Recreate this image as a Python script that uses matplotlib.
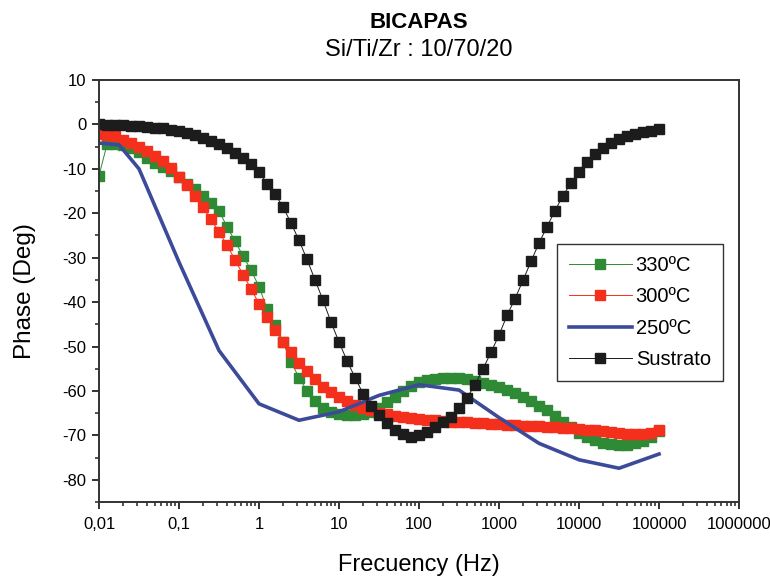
import matplotlib
matplotlib.use("Agg")
import matplotlib.pyplot as plt
import numpy as np
from matplotlib.ticker import FixedLocator, LogLocator, NullFormatter, MultipleLocator

plt.rcParams['font.family'] = ['Liberation Sans', 'DejaVu Sans']
plt.rcParams['axes.unicode_minus'] = False

# frequency sweep of the square-marker series: 0.01 Hz .. 100 kHz, 10 points/decade
freq = np.logspace(-2, 5, 71)

sustrato = [0.0, -0.1, -0.1, -0.2, -0.3, -0.4, -0.5, -0.7, -0.9, -1.2,
            -1.5, -1.9, -2.4, -3.0, -3.7, -4.5, -5.4, -6.4, -7.6, -9.0,
            -10.7, -13.3, -15.6, -18.6, -22.2, -26.1, -30.4, -35.0, -39.6, -44.5,
            -49.0, -53.2, -57.0, -60.6, -63.5, -65.5, -67.3, -68.9, -69.8, -70.3,
            -70.0, -69.3, -68.1, -67.0, -65.9, -63.9, -61.5, -58.6, -55.0, -51.3,
            -47.4, -43.0, -39.2, -35.1, -30.8, -26.7, -23.0, -19.4, -16.0, -13.2,
            -10.6, -8.5, -6.6, -5.2, -4.1, -3.2, -2.6, -2.1, -1.7, -1.4,
            -1.0]

t330 = [-11.5, -4.5, -4.4, -4.6, -5.3, -6.3, -7.5, -8.6, -9.6, -10.5,
        -11.8, -13.4, -14.6, -16.0, -17.6, -19.5, -23.0, -26.3, -29.6, -32.8,
        -36.5, -41.5, -45.2, -49.0, -53.5, -57.0, -60.0, -62.3, -63.8, -64.7,
        -65.1, -65.4, -65.5, -65.3, -64.8, -63.9, -62.6, -61.3, -60.0, -58.9,
        -58.0, -57.5, -57.2, -57.0, -57.0, -57.1, -57.4, -57.7, -58.1, -58.6,
        -59.1, -59.7, -60.5, -61.3, -62.3, -63.3, -64.4, -65.6, -66.9, -68.2,
        -69.4, -70.4, -71.1, -71.7, -72.0, -72.2, -72.1, -71.8, -71.2, -70.3,
        -69.0]

t300 = [-2.1, -2.3, -2.7, -3.4, -4.2, -5.1, -5.9, -7.0, -8.3, -9.9,
        -11.9, -13.7, -16.2, -18.7, -21.4, -24.2, -27.2, -30.5, -33.8, -37.0,
        -40.4, -43.4, -46.2, -48.9, -51.3, -53.7, -55.4, -57.3, -59.0, -60.3,
        -61.4, -62.3, -63.1, -63.8, -64.4, -64.9, -65.3, -65.6, -65.9, -66.1,
        -66.3, -66.5, -66.6, -66.8, -66.9, -67.0, -67.1, -67.2, -67.3, -67.4,
        -67.5, -67.6, -67.7, -67.8, -67.9, -68.0, -68.1, -68.2, -68.3, -68.4,
        -68.6, -68.7, -68.9, -69.1, -69.3, -69.5, -69.6, -69.7, -69.7, -69.4,
        -68.8]

freq250 = [0.01, 0.0178, 0.0316, 0.1, 0.316, 1, 3.16, 10, 31.6, 100,
           316, 1000, 3162, 10000, 31623, 100000]
t250 = [-4.2, -4.6, -10.0, -31.0, -50.9, -62.9, -66.6, -64.7, -61.0, -58.6,
        -59.8, -66.0, -71.8, -75.5, -77.4, -74.2]

xticks = [0.01, 0.1, 1, 10, 100, 1000, 10000, 100000, 1000000]
xticklabels = ['0,01', '0,1', '1', '10', '100', '1000', '10000', '100000', '1000000']

fig = plt.figure(figsize=(7.7, 5.79), dpi=100)
ax = fig.add_axes([0.1286, 0.133, 0.8312, 0.7288])

ax.plot(freq, t330, color='#2f8a36', lw=0.7, marker='s', ms=6.5, mec='#2f8a36', label='330ºC')
ax.plot(freq, t300, color='#f4301c', lw=0.7, marker='s', ms=6.5, mec='#f4301c', label='300ºC')
ax.plot(freq250, t250, color='#3c4a9a', lw=2.6, label='250ºC')
ax.plot(freq, sustrato, color='#1c1c1c', lw=0.7, marker='s', ms=6.5, mec='#1c1c1c', label='Sustrato')

ax.set_xscale('log')
ax.set_xlim(0.01, 1000000)
ax.set_ylim(-85, 10)
ax.xaxis.set_major_locator(FixedLocator(xticks))
ax.set_xticklabels(xticklabels)
ax.xaxis.set_minor_locator(LogLocator(base=10, subs=np.arange(2, 10), numticks=20))
ax.xaxis.set_minor_formatter(NullFormatter())
ax.yaxis.set_major_locator(MultipleLocator(10))
ax.yaxis.set_minor_locator(MultipleLocator(5))
ax.set_yticks([10, 0, -10, -20, -30, -40, -50, -60, -70, -80])

ax.tick_params(which='major', direction='out', length=5, width=1.4, labelsize=12, color='#333333')
ax.tick_params(which='minor', direction='out', length=3, width=1.2, color='#333333')
ax.tick_params(axis='x', pad=6)
ax.tick_params(axis='y', pad=4)
for s in ax.spines.values():
    s.set_linewidth(1.4)
    s.set_color('#333333')

ax.set_xlabel('Frecuency (Hz)', fontsize=17)
ax.xaxis.set_label_coords(0.5, -0.15)
ax.xaxis.label.set_va('center')
ax.set_ylabel('Phase (Deg)', fontsize=17.5)
ax.yaxis.set_label_coords(-0.116, 0.5)
ax.yaxis.label.set_va('center')

fig.text(0.544, 0.962, 'BICAPAS', ha='center', va='center', fontsize=16, fontweight='bold')
fig.text(0.544, 0.914, 'Si/Ti/Zr : 10/70/20', ha='center', va='center', fontsize=17)

leg = ax.legend(loc='upper left', bbox_to_anchor=(0.7, 0.636), fontsize=14.5,
                numpoints=1, handlelength=3.1, handletextpad=0.2, labelspacing=0.62,
                borderpad=0.6, fancybox=False, framealpha=1, edgecolor='#333333')
leg.get_frame().set_linewidth(1.0)

fig.savefig('out.png', dpi=100)
